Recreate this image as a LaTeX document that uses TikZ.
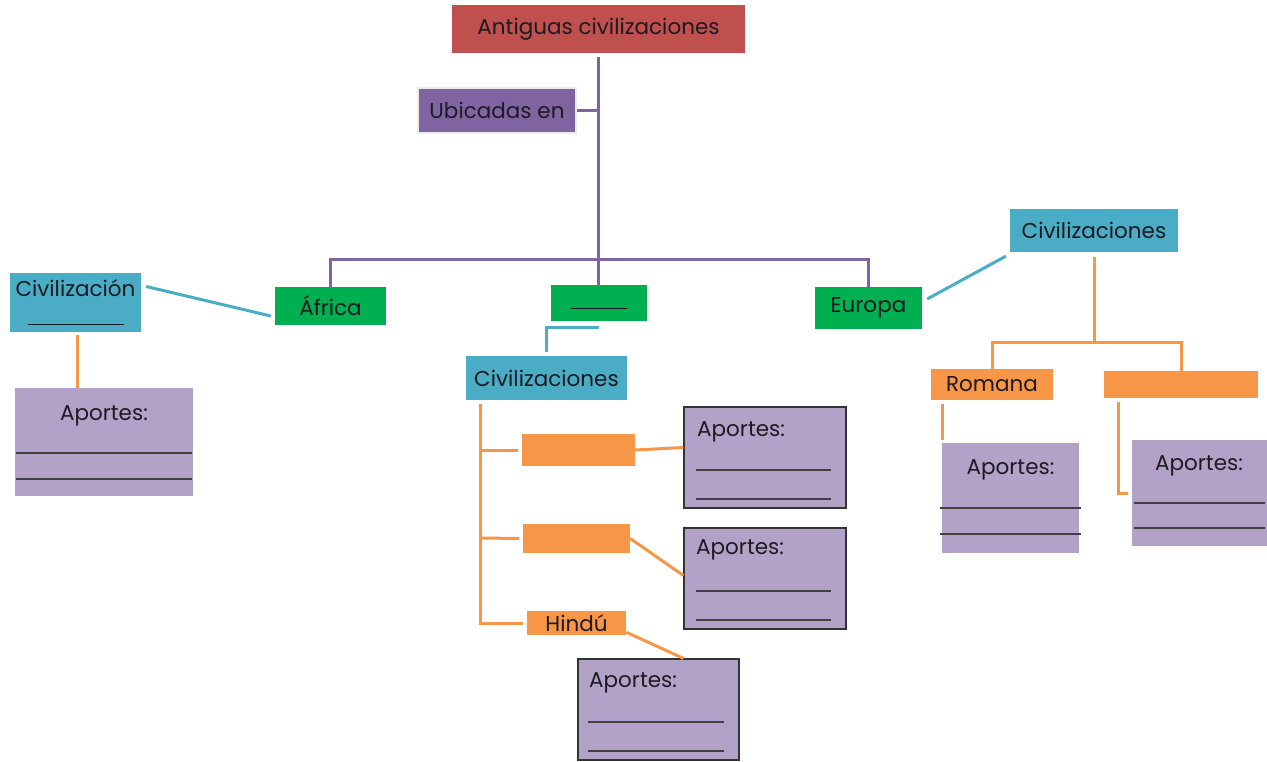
\documentclass[tikz,border=0pt]{standalone}
\usepackage{fontspec}
\setmainfont{Poppins}
\usetikzlibrary{calc}
\definecolor{cred}{HTML}{C0504D}
\definecolor{cpur}{HTML}{8064A2}
\definecolor{cgrn}{HTML}{00B050}
\definecolor{cblu}{HTML}{4BACC6}
\definecolor{corg}{HTML}{F79646}
\definecolor{clav}{HTML}{B3A2C7}
\definecolor{ctxt}{HTML}{1E1A22}
\begin{document}
\begin{tikzpicture}[x=1pt,y=-1pt,
  font=\fontsize{21.5}{26}\selectfont,
  bx/.style args={#1x#2}{rectangle, inner sep=0pt, text=ctxt, minimum width=#1pt, minimum height=#2pt},
  redbox/.style={fill=cred},
  purbox/.style={fill=cpur, draw=black!8, line width=2pt},
  grnbox/.style={fill=cgrn},
  blubox/.style={fill=cblu},
  orgbox/.style={fill=corg},
  apbox/.style={fill=clav},
  apboxd/.style={fill=clav, draw=black!80, line width=1.2pt},
  aptxt/.style={inner sep=0pt, text=ctxt},
  pline/.style={draw=cpur, line width=3pt},
  bline/.style={draw=cblu, line width=3pt},
  oline/.style={draw=corg, line width=3pt},
  rline/.style={draw=black!75, line width=1.2pt}
]
\useasboundingbox (0,0) rectangle (1267,761);

% ---- top
\node[bx=293x48, redbox] (title) at (598.5,29) {Antiguas civilizaciones};
\node[bx=158x45, purbox] (ub) at (497,110.5) {Ubicadas en};
\node[bx=111x38, grnbox] (africa) at (330.5,306) {África};
\node[bx=96x36, grnbox] (mid) at (598.5,303) {\raisebox{-12pt}{\rule{56pt}{1.2pt}}};
\node[bx=107x42, grnbox] (europa) at (868.5,308) {Europa};

\coordinate (j1) at (598.5,260);
\draw[pline] ($(title.south)+(0,4)$) -- (j1);
\draw[pline] (ub.east) -- (ub.east -| j1);
\draw[pline] (africa.north) -- ++(0,-27) -| (europa.north);
\draw[pline] (mid.north) -- (j1);

% ---- left
\node[bx=131x59, blubox, align=center, font=\fontsize{21.5}{29}\selectfont] (civ1) at (75.5,302.5) {Civilización\\\rule{96pt}{1.2pt}};
\node[bx=178x108, apbox] (ap0) at (104,442) {};
\node[aptxt] (ap0t) at (104,416) {Aportes:};
\draw[rline] (16,453) -- (192,453);
\draw[rline] (16,479) -- (192,479);
\draw[bline] ($(civ1.east)+(5,-16)$) -- ($(africa.west)+(-4,10)$);
\draw[oline] ($(civ1.south)+(1.5,3)$) -- ($(civ1.south |- ap0.north)+(1.5,0)$);

% ---- middle
\node[bx=161x44, blubox] (civm) at (546.5,378) {Civilizaciones};
\draw[bline] ($(mid.south)+(0,6)$) -| ($(civm.north)+(0,-4)$);

\node[bx=113x32, orgbox] (o1) at (578.5,450) {};
\node[bx=107x29, orgbox] (o2) at (576.5,538.5) {};
\node[bx=99x24, orgbox] (hindu) at (576.5,623) {Hindú};

\coordinate (jm1) at (481,450);
\coordinate (jm2) at (481,538);
\draw[oline] ($(civm.south west)+(15,4)$) |- ($(hindu.west)+(-4,0)$);
\draw[oline] (jm1) -- ($(o1.west)+(-4,0)$);
\draw[oline] (jm2) -- ($(o2.west)+(-4,0)$);

\node[bx=162x101, apboxd] (ap1) at (765,457.5) {};
\node[aptxt, anchor=west] (ap1t) at (697,432) {Aportes:};
\draw[rline] (696,470) -- (831,470);
\draw[rline] (696,499) -- (831,499);

\node[bx=162x101, apboxd] (ap2) at (765,578.5) {};
\node[aptxt, anchor=west] (ap2t) at (696,550) {Aportes:};
\draw[rline] (696,591) -- (831,591);
\draw[rline] (696,620) -- (831,620);

\node[bx=161x101, apboxd] (ap3) at (658.5,709.5) {};
\node[aptxt, anchor=west] (ap3t) at (589,683) {Aportes:};
\draw[rline] (588,722) -- (724,722);
\draw[rline] (588,751) -- (724,751);

\draw[oline] (o1.east) -- ($(ap1.west)+(0,-10)$);
\draw[oline] (o2.east) -- ($(ap2.west)+(0,-3)$);
\draw[oline] ($(hindu.south east)+(0,-3)$) -- ($(ap3.north)+(25,0)$);

% ---- right
\node[bx=168x43, blubox] (civr) at (1094,230.5) {Civilizaciones};
\draw[bline] ($(civr.south west)+(-4,4)$) -- ($(europa.east)+(5,-9)$);

\node[bx=122x31, orgbox] (romana) at (992,384.5) {Romana};
\node[bx=154x27, orgbox] (r2) at (1181,384.5) {};
\coordinate (jr) at (1094,342);
\draw[oline] ($(civr.south)+(0,5)$) -- (jr);
\draw[oline] (romana.north) |- (jr) -| (r2.north);

\node[bx=137x110, apbox] (ap4) at (1010.5,498) {};
\node[aptxt] (ap4t) at (1010.5,470) {Aportes:};
\draw[rline] (940,508) -- (1081,508);
\draw[rline] (940,534) -- (1081,534);

\node[bx=136x106, apbox] (ap5) at (1200,493) {};
\node[aptxt] (ap5t) at (1199,466) {Aportes:};
\draw[rline] (1134,503) -- (1265,503);
\draw[rline] (1134,528) -- (1265,528);

\draw[oline] ($(romana.south west)+(12,4)$) -- ($(romana.south west |- ap4.north)+(12,-3)$);
\draw[oline] ($(r2.south west)+(15,4)$) |- ($(ap5.west)+(-4,0)$);
\end{tikzpicture}
\end{document}
